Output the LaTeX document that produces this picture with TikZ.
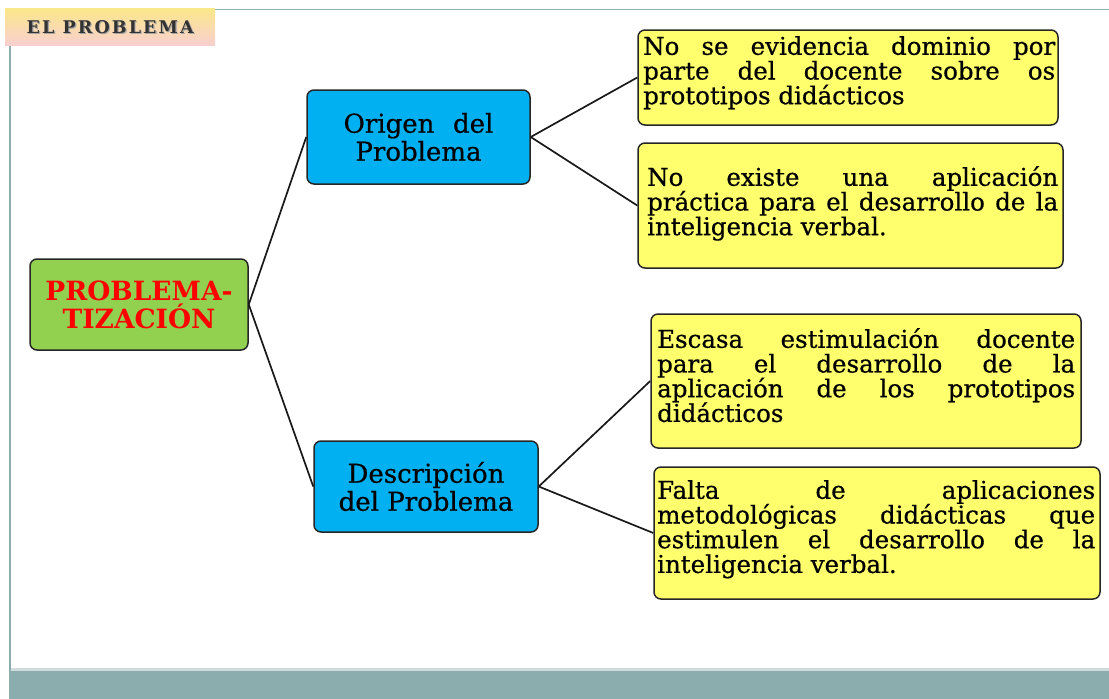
\documentclass[tikz,border=0pt]{standalone}
\usepackage{fontspec}
\setmainfont{DejaVu Serif}
\newfontfamily\bodyfont[FakeBold=0.6]{DejaVu Serif}
\newfontfamily\titlefont[LetterSpace=12]{DejaVu Serif}
\definecolor{framec}{HTML}{8BADAD}
\definecolor{barlight}{HTML}{D0DCDC}
\definecolor{boxyellow}{HTML}{FFFF6E}
\definecolor{boxcyan}{HTML}{00B0F0}
\definecolor{boxgreen}{HTML}{92D050}
\definecolor{titletop}{HTML}{FBE88A}
\definecolor{titlebot}{HTML}{F8CFCF}
\tikzset{
  rbox/.style={draw=black!85, line width=1.5pt, rounded corners=7pt, inner sep=0pt},
  ybox/.style={rbox, fill=boxyellow},
  cbox/.style={rbox, fill=boxcyan, align=center, font=\bodyfont\fontsize{26}{28}\selectfont},
  gbox/.style={rbox, fill=boxgreen, align=center, text=red, font=\bfseries\fontsize{26.5}{28}\selectfont},
  txt/.style={anchor=north west, inner sep=0pt, align=justify, font=\bodyfont\fontsize{24.5}{24.7}\selectfont},
  link/.style={draw=black!90, line width=1.7pt},
}
\begin{document}
\begin{tikzpicture}[x=1pt,y=-1pt]
\useasboundingbox (0,0) rectangle (1109,699);
% frame
\fill[barlight] (10,668) rectangle (1109,672);
\fill[framec] (10,671) rectangle (1109,699);
\draw[framec, line width=2pt] (10,45) -- (10,699);
\draw[framec, line width=1.5pt] (215,9.5) -- (1109,9.5);
% title
\node[minimum width=210pt, minimum height=37pt, inner sep=0pt, top color=titletop, bottom color=titlebot, anchor=north west] (title) at (5,8) {};
\node[text=black!35, font=\titlefont\bfseries\fontsize{17.5}{19}\selectfont] at ([xshift=1.2pt,yshift=-1.2pt]title.center) {EL PROBLEMA};
\node[text=black!80, font=\titlefont\bfseries\fontsize{17.5}{19}\selectfont] (titletext) at (title.center) {EL PROBLEMA};
% nodes
\node[gbox, minimum width=218pt, minimum height=91pt] (root) at (139,304.5) {PROBLEMA-\\TIZACIÓN};
\node[cbox, minimum width=223pt, minimum height=94pt] (orig) at (418.5,137) {Origen\hspace{0.4em} del\\Problema};
\node[cbox, minimum width=224pt, minimum height=91pt] (desc) at (426,486.5) {Descripción\\del Problema};
\node[ybox, minimum width=420pt, minimum height=95pt] (y1) at (848,77.5) {};
\node[ybox, minimum width=425pt, minimum height=125pt] (y2) at (850.5,205.5) {};
\node[ybox, minimum width=430pt, minimum height=134pt] (y3) at (866,381) {};
\node[ybox, minimum width=446pt, minimum height=132pt] (y4) at (877,533) {};
% texts
\node[txt, text width=412pt] (t1) at (643,36) {No se evidencia dominio por\linebreak parte del docente sobre os\linebreak prototipos didácticos};
\node[txt, text width=411pt] (t2) at (647,166) {No existe una aplicación\linebreak práctica para el desarrollo de la\linebreak inteligencia verbal.};
\node[txt, text width=418pt] (t3) at (657,328) {Escasa estimulación docente\linebreak para el desarrollo de la\linebreak aplicación de los prototipos\linebreak didácticos};
\node[txt, text width=438pt] (t4) at (657,480) {Falta de aplicaciones\linebreak metodológicas didácticas que\linebreak estimulen el desarrollo de la\linebreak inteligencia verbal.};
% links
\draw[link] (root.east) -- (orig.west);
\draw[link] (root.east) -- (desc.west);
\draw[link] (orig.east) -- (y1.west);
\draw[link] (orig.east) -- (y2.west);
\draw[link] (desc.east) -- (y3.west);
\draw[link] (desc.east) -- (y4.west);
\end{tikzpicture}
\end{document}
